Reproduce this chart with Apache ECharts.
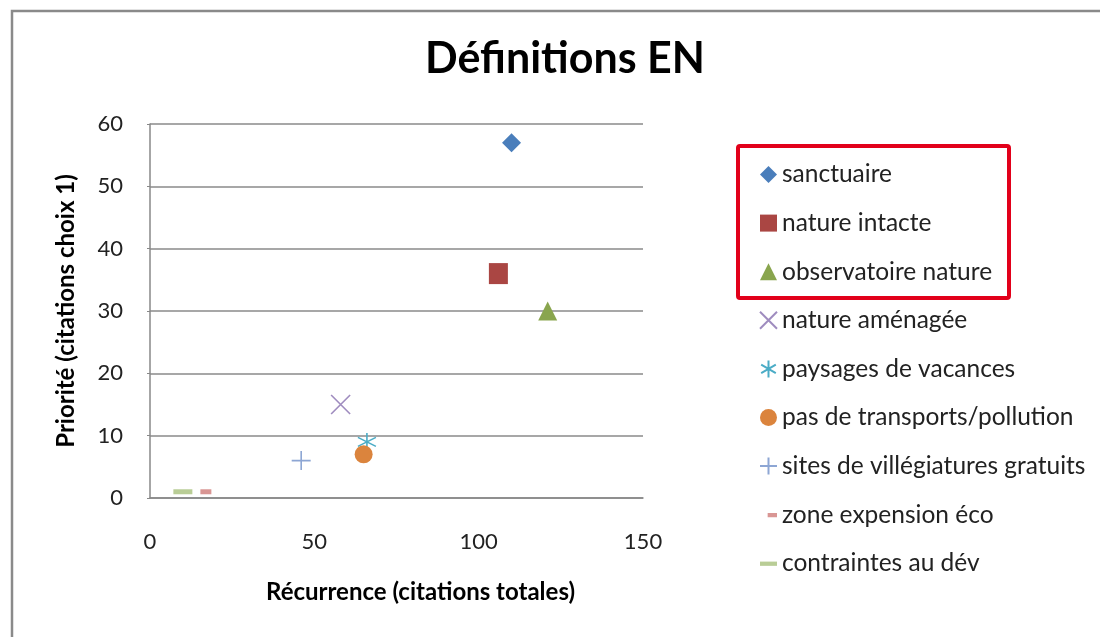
<!DOCTYPE html>
<html>
<head>
<meta charset="utf-8">
<script src="https://cdn.jsdelivr.net/npm/echarts@6/dist/echarts.min.js"></script>
<style>
html,body{margin:0;padding:0;background:#fff;}
#chart{width:1100px;height:637px;}
</style>
</head>
<body>
<div id="chart"></div>
<script>
const seriesNames = ['sanctuaire','nature intacte','observatoire nature','nature aménagée','paysages de vacances','pas de transports/pollution','sites de villégiatures gratuits','zone expension éco','contraintes au dév'];
const recurrence = [110, 106, 121, 58, 66, 65, 46, 17, 10];
const priorite   = [57, 36, 30, 15, 9, 7, 6, 1, 1];
const xTicks = [0, 50, 100, 150];
const yTicks = [0, 10, 20, 30, 40, 50, 60];

const FONT = 'Lato, "Open Sans", sans-serif';
const styles = [
  {symbol:'diamond', size:19, color:'#4A7EBB', fill:true, icon:'diamond'},
  {symbol:'rect', size:[19,21], color:'#AA4643', fill:true, icon:'rect'},
  {symbol:'triangle', size:19, color:'#89A54E', fill:true, icon:'triangle'},
  {symbol:'path://M0,0 L10,10 M10,0 L0,10', size:19, color:'#9F8CBF', fill:false, icon:'path://M0,0 L10,10 M10,0 L0,10'},
  {symbol:'path://M5,0 L5,10 M0.7,2.5 L9.3,7.5 M0.7,7.5 L9.3,2.5', size:18, color:'#4BACC6', fill:false, icon:'path://M5,0 L5,10 M0.7,2.5 L9.3,7.5 M0.7,7.5 L9.3,2.5'},
  {symbol:'circle', size:18, color:'#DB843D', fill:true, icon:'circle'},
  {symbol:'path://M5,0 L5,10 M0,5 L10,5', size:19, color:'#8DA6D4', fill:false, icon:'path://M5,0 L5,10 M0,5 L10,5'},
  {symbol:'rect', size:[11,5], color:'#D99694', fill:true, icon:'path://M0,0 M10,10 M4.5,4 L10,4 L10,6.5 L4.5,6.5 Z'},
  {symbol:'rect', size:[19,5], color:'#B9CD96', fill:true, icon:'path://M0,0 M10,10 M0,4 L10,4 L10,6.5 L0,6.5 Z'}
];

const series = seriesNames.map((n,i)=>{
  const s = styles[i];
  return {
    name: n,
    type: 'scatter',
    symbol: s.symbol,
    symbolSize: s.size,
    data: [[recurrence[i], priorite[i]]],
    itemStyle: s.fill ? {color: s.color, opacity:1} : {color: 'rgba(0,0,0,0)', borderColor: s.color, borderWidth: 1.6, opacity:1},
    emphasis: {disabled: true}
  };
});

const chart = echarts.init(document.getElementById('chart'), null, {renderer:'canvas'});
chart.setOption({
  animation: false,
  backgroundColor: '#fff',
  title: {
    text: 'Définitions EN',
    left: 560, textAlign: 'center', top: 33,
    textStyle: {fontFamily: FONT, fontWeight: 'bold', fontSize: 43, color: '#000'}
  },
  grid: {left: 150, top: 124, right: 457, bottom: 139},
  xAxis: {
    type: 'value', min: 0, max: 150, interval: 50,
    name: 'Récurrence (citations totales)', nameLocation: 'middle', nameGap: 82,
    nameTextStyle: {fontFamily: FONT, fontWeight: 'bold', fontSize: 24, color: '#000', padding: [0,0,0,48]},
    axisLine: {show: true, lineStyle: {color: '#888', width: 1.5}},
    axisTick: {show: false},
    splitLine: {show: false},
    axisLabel: {fontFamily: FONT, fontSize: 22, color: '#222', margin: 33,
      formatter: v => xTicks.includes(v) ? String(v) : ''}
  },
  yAxis: {
    type: 'value', min: 0, max: 60, interval: 10,
    name: 'Priorité (citations choix 1)', nameLocation: 'middle', nameGap: 72, nameRotate: 90,
    nameTextStyle: {fontFamily: FONT, fontWeight: 'bold', fontSize: 24, color: '#000'},
    axisLine: {show: true, lineStyle: {color: '#888', width: 1.5}},
    axisTick: {show: true, length: 3, lineStyle: {color: '#888'}},
    splitLine: {show: true, lineStyle: {color: '#8a8a8a', width: 1.5}},
    axisLabel: {fontFamily: FONT, fontSize: 22, color: '#222', margin: 27,
      formatter: v => yTicks.includes(v) ? String(v) : ''}
  },
  legend: {
    orient: 'vertical', left: 754, top: 157,
    itemWidth: 17, itemHeight: 17, itemGap: 23.6,
    data: seriesNames.map((n,i)=>({name:n, icon: styles[i].icon})),
    textStyle: {fontFamily: FONT, fontSize: 24.5, color: '#222', lineHeight: 24},
    selectedMode: false
  },
  graphic: [
    {type:'rect', shape:{x:12, y:11, width:1110, height:660}, style:{fill:'none', stroke:'#8a8a8a', lineWidth:2.5}, silent:true},
    {type:'rect', shape:{x:738, y:146, width:271, height:152, r:2}, style:{fill:'none', stroke:'#E2001A', lineWidth:4}, silent:true, z:10}
  ],
  series: series
});
</script>
</body>
</html>
